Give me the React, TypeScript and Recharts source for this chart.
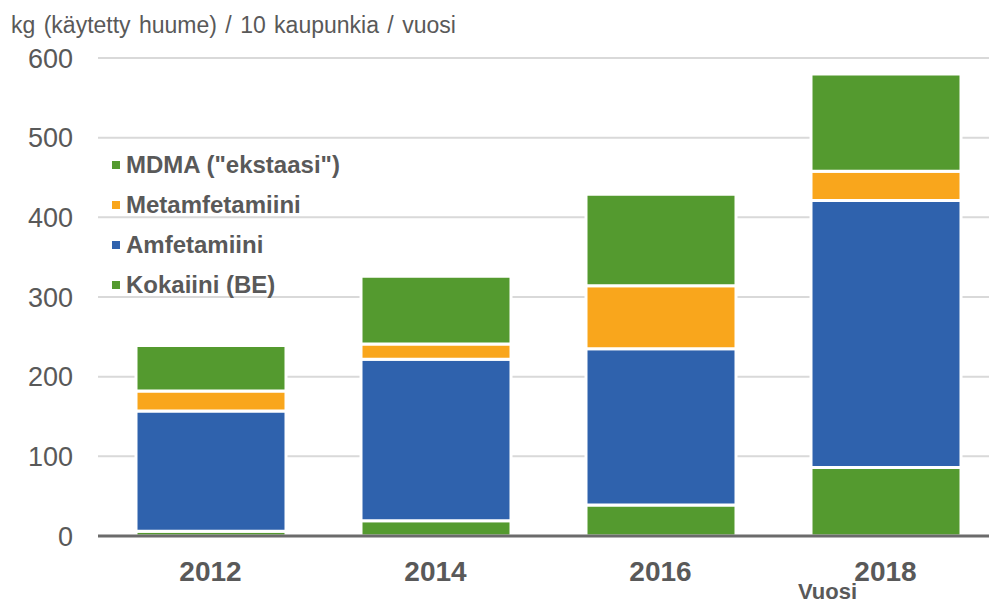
import { BarChart, Bar, XAxis, YAxis, CartesianGrid, Legend } from "recharts";

const years = ["2012", "2014", "2016", "2018"];
const kokaiini = [6, 19, 39, 86];
const amfetamiini = [151, 203, 196, 335];
const metamfetamiini = [25, 19, 79, 37];
const mdma = [57, 85, 115, 122];
const yTicks = [0, 100, 200, 300, 400, 500, 600];
const legendOrder = ['MDMA ("ekstaasi")', "Metamfetamiini", "Amfetamiini", "Kokaiini (BE)"];

const GREEN = "#549a2f";
const ORANGE = "#f9a61c";
const BLUE = "#2f62ad";
const TEXT = "#595959";
const FONT = '"Liberation Sans", Arial, sans-serif';

const data = years.map((y, i) => ({
  year: y,
  kok: kokaiini[i],
  amf: amfetamiini[i],
  met: metamfetamiini[i],
  mdma: mdma[i],
}));

function LegendBox({ payload }: any) {
  const items = (payload || [])
    .slice()
    .sort((a: any, b: any) => legendOrder.indexOf(a.value) - legendOrder.indexOf(b.value));
  return (
    <div style={{ fontFamily: FONT }}>
      {items.map((p: any) => (
        <div
          key={p.value}
          style={{ display: "flex", alignItems: "center", height: 40 }}
        >
          <span
            style={{ width: 8, height: 8, background: p.color, marginRight: 6, display: "inline-block" }}
          />
          <span style={{ fontSize: 24, fontWeight: "bold", color: TEXT }}>{p.value}</span>
        </div>
      ))}
    </div>
  );
}

export default function App() {
  return (
    <div
      style={{
        position: "absolute",
        left: 0,
        top: 0,
        width: 989,
        height: 606,
        overflow: "hidden",
        background: "#fff",
        fontFamily: FONT,
      }}
    >
      <div
        style={{
          position: "absolute",
          left: 11,
          top: 12,
          fontSize: 23,
          color: TEXT,
          wordSpacing: 2,
          whiteSpace: "pre",
        }}
      >
        kg (käytetty huume) / 10 kaupunkia / vuosi
      </div>
      <BarChart
        width={1010}
        height={606}
        data={data}
        margin={{ top: 58, right: 12, bottom: 0, left: 0 }}
      >
        <CartesianGrid vertical={false} stroke="#d9d9d9" strokeWidth={2} />
        <XAxis
          dataKey="year"
          height={70}
          tickLine={false}
          tickSize={6}
          tickMargin={19}
          axisLine={{ stroke: "#6b6b6b", strokeWidth: 3 }}
          tick={{ fontSize: 28, fontWeight: "bold", fill: TEXT, fontFamily: FONT }}
        />
        <YAxis
          width={98}
          domain={[0, 600]}
          ticks={yTicks}
          tickLine={false}
          axisLine={false}
          tickSize={6}
          tickMargin={19}
          tick={{ fontSize: 27, fill: TEXT, fontFamily: FONT }}
        />
        <Legend
          layout="vertical"
          align="center"
          verticalAlign="middle"
          content={<LegendBox />}
          wrapperStyle={{ left: 112, top: 145, width: 280 }}
        />
        <Bar dataKey="kok" name="Kokaiini (BE)" stackId="a" fill={GREEN} stroke="#fff" strokeWidth={3} barSize={150} isAnimationActive={false} />
        <Bar dataKey="amf" name="Amfetamiini" stackId="a" fill={BLUE} stroke="#fff" strokeWidth={3} barSize={150} isAnimationActive={false} />
        <Bar dataKey="met" name="Metamfetamiini" stackId="a" fill={ORANGE} stroke="#fff" strokeWidth={3} barSize={150} isAnimationActive={false} />
        <Bar dataKey="mdma" name={'MDMA ("ekstaasi")'} stackId="a" fill={GREEN} stroke="#fff" strokeWidth={3} barSize={150} isAnimationActive={false} />
      </BarChart>
      <div
        style={{
          position: "absolute",
          left: 798,
          top: 580,
          fontSize: 22,
          lineHeight: "24px",
          fontWeight: "bold",
          color: TEXT,
        }}
      >
        Vuosi
      </div>
    </div>
  );
}
